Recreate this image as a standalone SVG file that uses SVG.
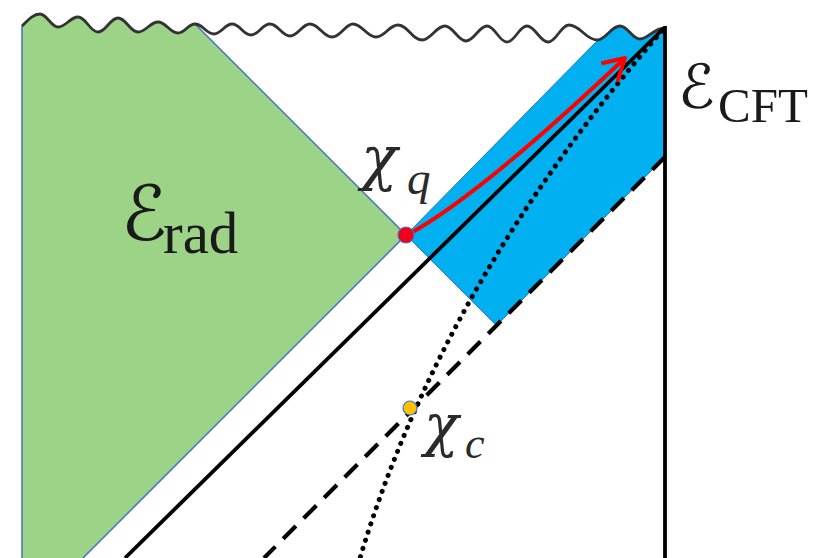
<svg xmlns="http://www.w3.org/2000/svg" width="829" height="558" viewBox="0 0 829 558">
<style>
.wave{fill:none;stroke:#333;stroke-width:2.8}
.edge-g{fill:none;stroke:#4472C4;stroke-width:1.5}
.solid{fill:none;stroke:#000;stroke-width:3.8}
.dash{fill:none;stroke:#000;stroke-width:4.2;stroke-dasharray:18 11}
.dot{fill:none;stroke:#000;stroke-width:5;stroke-linecap:round;stroke-dasharray:0.1 8.5}
.red{fill:none;stroke:#FF0000;stroke-width:4;stroke-linecap:round;stroke-linejoin:round}
.cal{font-family:"DejaVu Serif","DejaVu Sans",serif;fill:#1a1a1a}
.rm{font-family:"Liberation Serif",serif;fill:#1a1a1a}
.gk{font-family:"DejaVu Serif",serif;font-style:italic;fill:#2a2a2a}
.it{font-family:"Liberation Serif",serif;font-style:italic;fill:#2a2a2a}
</style>
<rect width="829" height="558" fill="#fff"/>
<g id="region-rad">
<path d="M22,558 L22,26 C28,20 33,14 40,14 C47,14 51,27 58,27 C66,27 70,17 78,17 C86,17 90,32 98,32 C106,32 110,18 118,18 C126,18 130,32 138,32 C146,32 150,22 158,22 C166,22 170,33 178,33 C185,33 188,24 195,24 L406,235 L83,558 Z" fill="#9CD386"/>
<path class="edge-g" d="M22,558 L22,26 M195,24 L406,235 L83,558"/>
<text x="121" y="240" class="cal" font-size="76">ℰ</text>
<text x="163" y="253" class="rm" font-size="59">rad</text>
</g>
<g id="region-cft">
<path d="M406,235 L597,41 C606,40 611,26 620,26 C628,26 632,39 640,39 C648,39 654,28 665,28 L665,157 L496.5,325.5 Z" fill="#00B0F0" stroke="#2E75B6" stroke-width="1"/>
<text x="678" y="108" class="cal" font-size="61">ℰ</text>
<text x="718" y="122" class="rm" font-size="49">CFT</text>
</g>
<g id="connectors">
<path class="wave" d="M22,26 C28,20 33,14 40,14 C47,14 51,27 58,27 C66,27 70,17 78,17 C86,17 90,32 98,32 C106,32 110,18 118,18 C126,18 130,32 138,32 C146,32 150,22 158,22 C166,22 170,33 178,33 C185,33 188,24 195,24 C203,24 206,34 214,34 C221,34 225,24 232,24 C240,24 243,35 251,35 C259,35 262,24 270,24 C278,24 282,36 290,36 C298,36 302,24 310,24 C319,24 323,37 332,37 C341,37 345,24 353,24 C362,24 367,37 376,37 C385,37 389,25 398,25 C408,25 412,40 422,40 C431,40 436,26 445,26 C453,26 458,41 466,41 C474,41 479,26 487,26 C495,26 499,42 507,42 C515,42 519,26 527,26 C535,26 540,42 548,42 C556,42 561,25 569,25 C580,25 586,40 597,40 C606,40 611,26 620,26 C628,26 632,39 640,39 C648,39 654,28 665,28"/>
<line class="solid" x1="665" y1="26" x2="665" y2="558" stroke-width="4.2"/>
<line class="solid" x1="664" y1="28" x2="125" y2="558"/>
<line class="dash" x1="665" y1="157" x2="264" y2="558"/>
<path class="dot" d="M662,31 Q443,282 360,558"/>
<path class="red" d="M409,234 Q480,195 624,59"/>
<path class="red" d="M603,63 L625,58 L618,80"/>
</g>
<g id="chi-q">
<circle cx="406" cy="235" r="8" fill="#F0001C" stroke="#4472C4" stroke-width="1.2"/>
<text x="361" y="179" class="gk" font-size="60">χ</text>
<text x="407" y="194" class="it" font-size="47">q</text>
</g>
<g id="chi-c">
<circle cx="410" cy="408" r="7" fill="#FFC000" stroke="#4472C4" stroke-width="1.2"/>
<text x="424" y="445" class="gk" font-size="57">χ</text>
<text x="465" y="458" class="it" font-size="44">c</text>
</g>
</svg>
